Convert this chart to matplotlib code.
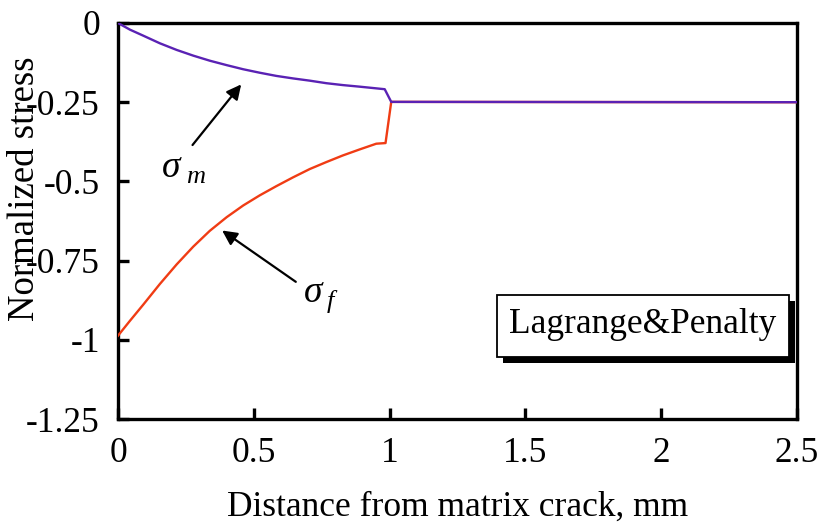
import matplotlib
matplotlib.use("Agg")
import matplotlib.pyplot as plt
from matplotlib.patches import Rectangle

plt.rcParams['font.family'] = ['Liberation Serif', 'DejaVu Serif']

# Data
x_m = [0.0, 0.044, 0.093, 0.154, 0.216, 0.277, 0.338, 0.400, 0.461, 0.522, 0.583,
       0.645, 0.706, 0.767, 0.828, 0.890, 0.982, 1.006, 2.5]
sigma_m = [0.0, -0.021, -0.040, -0.064, -0.085, -0.103, -0.119, -0.133, -0.146, -0.157,
           -0.167, -0.175, -0.182, -0.190, -0.196, -0.201, -0.209, -0.249, -0.25]

x_f = [0.0, 0.044, 0.093, 0.154, 0.216, 0.277, 0.338, 0.400, 0.461, 0.522, 0.583,
       0.645, 0.706, 0.767, 0.828, 0.890, 0.951, 0.985, 1.006, 2.5]
sigma_f = [-0.987, -0.940, -0.889, -0.824, -0.762, -0.706, -0.656, -0.613, -0.576, -0.544,
           -0.515, -0.487, -0.461, -0.439, -0.418, -0.399, -0.381, -0.379, -0.249, -0.25]

x_ticks = [0, 0.5, 1, 1.5, 2, 2.5]
x_tick_labels = ['0', '0.5', '1', '1.5', '2', '2.5']
y_ticks = [0, -0.25, -0.5, -0.75, -1, -1.25]
y_tick_labels = ['0', '-0.25', '-0.5', '-0.75', '-1', '-1.25']

FS = 25.5

fig = plt.figure(figsize=(8.21, 5.27), dpi=100)
ax = fig.add_axes([118/821, 1-419/527, (797-118)/821, (419-23)/527])

ax.plot(x_f, sigma_f, color='#f03c14', lw=1.7, zorder=3)
ax.plot(x_m, sigma_m, color='#5a22b4', lw=1.7, zorder=4)

ax.set_xlim(0, 2.5)
ax.set_ylim(-1.25, 0)
ax.set_xticks(x_ticks)
ax.set_xticklabels(x_tick_labels)
ax.set_yticks(y_ticks)
ax.set_yticklabels(y_tick_labels)
ax.tick_params(direction='in', length=8, width=2.4, labelsize=FS, pad=13,
               top=False, right=False)
for s in ax.spines.values():
    s.set_linewidth(2.4)

ax.set_xlabel('Distance from matrix crack, mm', fontsize=FS, labelpad=15)
fig.text(25/821, 1-189/527, 'Normalized stress', fontsize=FS + 1, rotation=90,
         ha='center', va='center')

# annotations
ax.annotate('', xy=(0.46, -0.187), xytext=(0.268, -0.392),
            arrowprops=dict(arrowstyle='-|>', lw=1.6, color='k', mutation_scale=22))
ax.annotate('', xy=(0.375, -0.650), xytext=(0.663, -0.822),
            arrowprops=dict(arrowstyle='-|>', lw=1.6, color='k', mutation_scale=22))

ax.text(0.163, -0.485, 'σ', fontsize=27, style='italic', ha='left', va='baseline')
ax.text(0.252, -0.505, 'm', fontsize=19, style='italic', ha='left', va='baseline')
ax.text(0.685, -0.88, 'σ', fontsize=27, style='italic', ha='left', va='baseline')
ax.text(0.768, -0.90, 'f', fontsize=19, style='italic', ha='left', va='baseline')

# label box with shadow
bx0, bx1 = (497-118)/679, (789-118)/679
by0, by1 = (419-357)/396, (419-295)/396
dx, dy = 6/679, 6/396
ax.add_patch(Rectangle((bx0+dx, by0-dy), bx1-bx0, by1-by0, transform=ax.transAxes,
                       facecolor='black', edgecolor='none', lw=0, zorder=5))
ax.add_patch(Rectangle((bx0, by0), bx1-bx0, by1-by0, transform=ax.transAxes,
                       facecolor='white', edgecolor='black', lw=1.3, zorder=6))
ax.text((bx0+bx1)/2, (by0+by1)/2 + 0.005, 'Lagrange&Penalty', transform=ax.transAxes,
        fontsize=FS, ha='center', va='center', zorder=7)

fig.savefig('out.png', dpi=100)
